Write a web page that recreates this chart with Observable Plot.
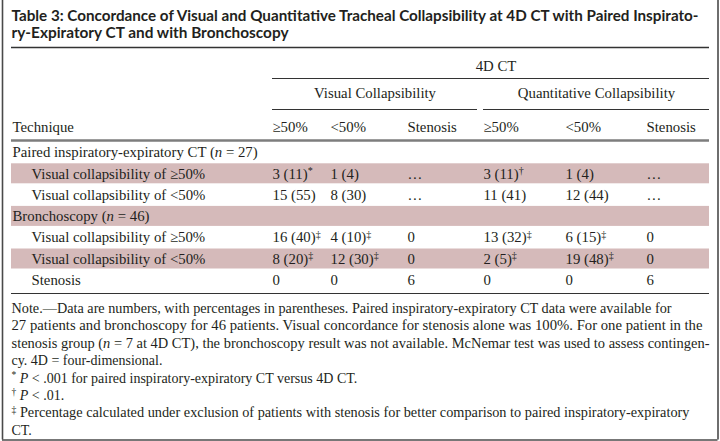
<!DOCTYPE html>
<html><head><meta charset="utf-8">
<script src="https://cdn.jsdelivr.net/npm/d3@7"></script>
<script src="https://cdn.jsdelivr.net/npm/@observablehq/plot@0.6"></script>
<style>html,body{margin:0;padding:0;background:#fff}</style>
</head><body><div id="chart"></div>
<script>
// ---------- content ----------
const titleLines = [
  "Table 3: Concordance of Visual and Quantitative Tracheal Collapsibility at 4D CT with Paired Inspirato-",
  "ry-Expiratory CT and with Bronchoscopy"
];
const groupHeader = "4D CT";
const subGroups = ["Visual Collapsibility", "Quantitative Collapsibility"];
const stubHeader = "Technique";
const columnHeaders = ["≥50%", "<50%", "Stenosis", "≥50%", "<50%", "Stenosis"];
const rowLabels = [
  "Paired inspiratory-expiratory CT (n = 27)",
  "Visual collapsibility of ≥50%",
  "Visual collapsibility of <50%",
  "Bronchoscopy (n = 46)",
  "Visual collapsibility of ≥50%",
  "Visual collapsibility of <50%",
  "Stenosis"
];
const sectionRows = [0, 3];
const shadedRows = [1, 3, 5];
const visualGE50 = [null, "3 (11)*", "15 (55)", null, "16 (40)‡", "8 (20)‡", "0"];
const visualLT50 = [null, "1 (4)", "8 (30)", null, "4 (10)‡", "12 (30)‡", "0"];
const visualStenosis = [null, "…", "…", null, "0", "0", "6"];
const quantGE50 = [null, "3 (11)†", "11 (41)", null, "13 (32)‡", "2 (5)‡", "0"];
const quantLT50 = [null, "1 (4)", "12 (44)", null, "6 (15)‡", "19 (48)‡", "0"];
const quantStenosis = [null, "…", "…", null, "0", "0", "6"];
const noteLines = [
  "Note.—Data are numbers, with percentages in parentheses. Paired inspiratory-expiratory CT data were available for",
  "27 patients and bronchoscopy for 46 patients. Visual concordance for stenosis alone was 100%. For one patient in the",
  "stenosis group (n = 7 at 4D CT), the bronchoscopy result was not available. McNemar test was used to assess contingen-",
  "cy. 4D = four-dimensional.",
  "* P < .001 for paired inspiratory-expiratory CT versus 4D CT.",
  "† P < .01.",
  "‡ Percentage calculated under exclusion of patients with stenosis for better comparison to paired inspiratory-expiratory",
  "CT."
];

// ---------- layout ----------
const W = 720, H = 441;
const L = 11, R = 709;
const colX = [272, 330, 407, 483, 565, 646];
const rowY0 = 152, rowStep = 21.3;
const rowY = rowLabels.map((_, i) => rowY0 + i * rowStep);
const noteY0 = 308, noteStep = 17.4;
const noteEnds = {0: 671, 1: 702, 2: 709, 6: 689};
const titleEnds = {0: 698, 1: 288};
const ink = "#231f20", shade = "#d5baba";
const serif = "'Liberation Serif', 'Times New Roman', serif";
const sans = "Lato, 'DejaVu Sans', sans-serif";

const valueCols = [visualGE50, visualLT50, visualStenosis, quantGE50, quantLT50, quantStenosis];
const cells = [];
valueCols.forEach((col, c) => col.forEach((v, r) => { if (v != null) cells.push({c, r, v}); }));
const rowIdx = rowLabels.map((_, i) => i);

const plot = Plot.plot({
  width: W, height: H, margin: 0,
  x: {domain: [0, W], range: [0, W], axis: null},
  y: {domain: [0, H], range: [0, H], axis: null},
  style: {fontFamily: serif, fontSize: "14.8px", color: ink, background: "#fff", overflow: "visible"},
  marks: [
    // shaded bands
    Plot.rect(shadedRows, {x1: L, x2: R, y1: i => rowY[i] - 10, y2: i => rowY[i] + 10, fill: shade}),
    // frame
    Plot.ruleX([2, 717.5], {y1: 0, y2: 439.5, stroke: "#4a4a4a", strokeWidth: 1.6}),
    Plot.ruleY([439.5], {x1: 2, x2: 717.5, stroke: "#4a4a4a", strokeWidth: 1.6}),
    // rules
    Plot.ruleY([47], {x1: L, x2: R, stroke: "#333", strokeWidth: 1.3}),
    Plot.ruleY([78], {x1: colX[0], x2: R, stroke: "#333", strokeWidth: 1}),
    Plot.ruleY([109], {x1: colX[0], x2: 477, stroke: "#333", strokeWidth: 1}),
    Plot.ruleY([109], {x1: colX[3], x2: R, stroke: "#333", strokeWidth: 1}),
    Plot.ruleY([140], {x1: L, x2: R, stroke: "#7d7d7d", strokeWidth: 2.6}),
    Plot.ruleY([293], {x1: L, x2: R, stroke: "#333", strokeWidth: 1}),
    // title
    Plot.text(titleLines, {x: L, y: (d, i) => [15.5, 32.5][i], text: d => d, textAnchor: "start",
      fontFamily: sans, fontWeight: 700, fontSize: 14.5, fill: ink, className: "title-line"}),
    // headers
    Plot.text([groupHeader], {x: (colX[0] + R) / 2 + 5, y: 66, text: d => d, fill: ink}),
    Plot.text(subGroups, {x: (d, i) => i === 0 ? (colX[0] + 477) / 2 : (colX[3] + R) / 2, y: 93, text: d => d, fill: ink}),
    Plot.text([stubHeader], {x: 12, y: 127, text: d => d, textAnchor: "start", fill: ink}),
    Plot.text(columnHeaders, {x: (d, i) => colX[i], y: 127, text: d => d, textAnchor: "start", fill: ink}),
    // stub
    Plot.text(rowIdx, {x: i => sectionRows.includes(i) ? 12 : 31, y: i => rowY[i], text: i => rowLabels[i], textAnchor: "start", fill: ink}),
    // cells
    Plot.text(cells, {x: d => colX[d.c], y: d => rowY[d.r], text: d => d.v, textAnchor: "start", fill: ink}),
    // notes
    Plot.text(noteLines, {x: L, y: (d, i) => noteY0 + i * noteStep, text: d => d, textAnchor: "start",
      fontSize: 14, fill: ink, className: "note-line"})
  ]
});

// rich text: superscript footnote markers, italic n / P
const NS = "http://www.w3.org/2000/svg";
function rich(t) {
  const s = t.textContent;
  const re = /([*†‡])|((?:^|(?<=[\s(]))[nP](?= [=<] ))/g;
  if (!s.match(re)) return;
  t.textContent = "";
  let last = 0, m, raised = false;
  const fs = parseFloat(getComputedStyle(t).fontSize) || 14;
  const add = (txt, attrs) => {
    const ts = document.createElementNS(NS, "tspan");
    ts.textContent = txt;
    for (const k in attrs) ts.setAttribute(k, attrs[k]);
    t.appendChild(ts);
  };
  re.lastIndex = 0;
  while ((m = re.exec(s))) {
    if (m.index > last) { add(s.slice(last, m.index), raised ? {dy: (fs * 0.33).toFixed(1)} : {}); raised = false; }
    if (m[1]) { add(m[1], {"font-size": (fs * 0.68).toFixed(1), dy: (-fs * 0.33).toFixed(1)}); raised = true; }
    else { add(m[2], raised ? {"font-style": "italic", dy: (fs * 0.33).toFixed(1)} : {"font-style": "italic"}); raised = false; }
    last = re.lastIndex;
  }
  if (last < s.length) add(s.slice(last), raised ? {dy: (fs * 0.33).toFixed(1)} : {});
}
document.getElementById("chart").appendChild(plot);
plot.querySelectorAll("text").forEach(rich);
plot.querySelectorAll(".note-line text").forEach((t, i) => {
  if (noteEnds[i] != null) { t.setAttribute("textLength", noteEnds[i] - L); t.setAttribute("lengthAdjust", "spacingAndGlyphs"); }
});
plot.querySelectorAll(".title-line text").forEach((t, i) => {
  if (titleEnds[i] != null) { t.setAttribute("textLength", titleEnds[i] - L); t.setAttribute("lengthAdjust", "spacingAndGlyphs"); }
});
</script></body></html>
